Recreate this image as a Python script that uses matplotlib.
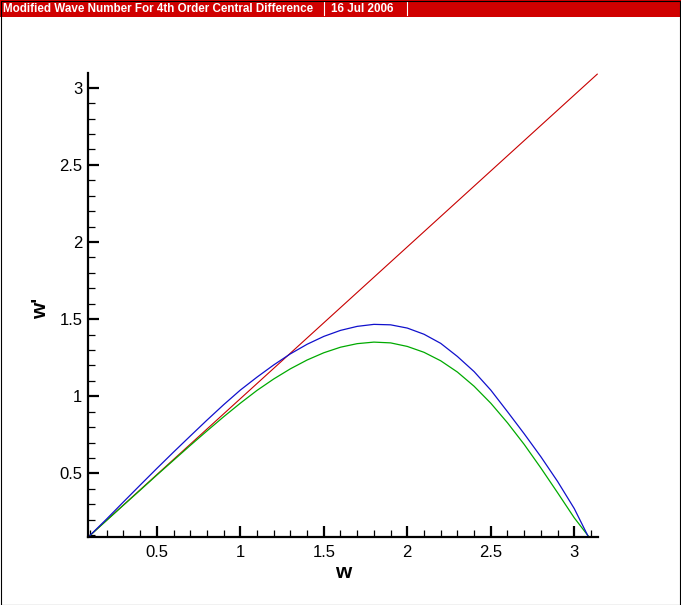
import matplotlib
matplotlib.use("Agg")
import matplotlib.pyplot as plt
from matplotlib.patches import Rectangle
from matplotlib.lines import Line2D
from matplotlib.ticker import MultipleLocator, FuncFormatter

# ---- data ----
title_text = "Modified Wave Number For 4th Order Central Difference"
date_text = "16 Jul 2006"
x_label = "w"
y_label = "w'"

red_w = [0.09, 3.14]
red_y = [0.0886, 3.09]

blue_w = [0.09, 0.2, 0.3, 0.4, 0.5, 0.6, 0.7, 0.8, 0.9, 1.0, 1.1, 1.2, 1.3, 1.4, 1.5,
          1.6, 1.7, 1.8, 1.9, 2.0, 2.1, 2.2, 2.3, 2.4, 2.5, 2.6, 2.7, 2.8, 2.9, 3.0, 3.084]
blue_y = [0.088, 0.205, 0.315, 0.424, 0.532, 0.638, 0.742, 0.845, 0.945, 1.040, 1.124,
          1.203, 1.275, 1.337, 1.388, 1.427, 1.453, 1.466, 1.463, 1.442, 1.402, 1.343,
          1.258, 1.160, 1.040, 0.900, 0.757, 0.608, 0.448, 0.272, 0.09]

green_w = [0.09, 0.2, 0.3, 0.4, 0.5, 0.6, 0.7, 0.8, 0.9, 1.0, 1.1, 1.2, 1.3, 1.4, 1.5,
           1.6, 1.7, 1.8, 1.9, 2.0, 2.1, 2.2, 2.3, 2.4, 2.5, 2.6, 2.7, 2.8, 2.9, 3.0, 3.087]
green_y = [0.088, 0.196, 0.294, 0.391, 0.489, 0.585, 0.681, 0.775, 0.867, 0.955, 1.038,
           1.112, 1.178, 1.235, 1.282, 1.318, 1.341, 1.351, 1.346, 1.323, 1.285, 1.230,
           1.157, 1.065, 0.955, 0.828, 0.688, 0.535, 0.375, 0.212, 0.09]

x_range = (0.088, 3.142)
y_range = (0.088, 3.095)

# ---- figure ----
W, H = 681, 605
plt.rcParams["font.family"] = ["Liberation Sans", "DejaVu Sans"]
fig = plt.figure(figsize=(W / 100, H / 100), dpi=100)
fig.patch.set_facecolor("white")

def px(x, y):
    return x / W, 1 - y / H

# axes box: left 88, right 598, top 73, bottom 537 (pixels)
ax = fig.add_axes([88 / W, 1 - 537 / H, (598 - 88) / W, (537 - 73) / H])
ax.set_facecolor("white")

ax.plot(red_w, red_y, color="#C80000", lw=0.8, solid_capstyle="butt")
ax.plot(green_w, green_y, color="#00AA00", lw=0.9)
ax.plot(blue_w, blue_y, color="#1010CC", lw=0.9)

ax.set_xlim(*x_range)
ax.set_ylim(*y_range)

for s in ("top", "right"):
    ax.spines[s].set_visible(False)
for s in ("left", "bottom"):
    ax.spines[s].set_linewidth(1.6)
    ax.spines[s].set_color("black")

fmt = FuncFormatter(lambda v, p: "%g" % round(v, 3))
ax.xaxis.set_major_locator(MultipleLocator(0.5))
ax.xaxis.set_minor_locator(MultipleLocator(0.1))
ax.yaxis.set_major_locator(MultipleLocator(0.5))
ax.yaxis.set_minor_locator(MultipleLocator(0.1))
ax.xaxis.set_major_formatter(fmt)
ax.yaxis.set_major_formatter(fmt)

ax.tick_params(which="major", direction="in", length=8, width=1.6, labelsize=12,
               colors="black")
ax.tick_params(which="minor", direction="in", length=5, width=0.9)
ax.tick_params(axis="x", which="major", pad=6)
ax.tick_params(axis="y", which="major", pad=4)

# axis titles
fig.text(*px(343, 572), x_label, ha="center", va="center", fontsize=15,
         fontweight="bold")
fig.text(*px(41, 308), y_label, ha="center", va="center", fontsize=15,
         fontweight="bold", rotation=90)

# title bar
bar_h = 17
fig.patches.append(Rectangle(px(0, bar_h), 1, bar_h / H, transform=fig.transFigure,
                             facecolor="#D00000", edgecolor="none", zorder=0))
fig.text(*px(3, 8.5), title_text, ha="left", va="center", color="white",
         fontsize=8.4, fontweight="bold")
fig.text(*px(331, 8.5), date_text, ha="left", va="center", color="white",
         fontsize=8.4, fontweight="bold")
for sx in (324, 407):
    fig.lines.append(Line2D([sx / W, sx / W], [1 - 2 / H, 1 - 15 / H],
                            transform=fig.transFigure, color="white", lw=0.8))

# outer border
fig.patches.append(Rectangle((0.5 / W, 0.5 / H), 1 - 1.5 / W, 1 - 1.5 / H,
                             transform=fig.transFigure, facecolor="none",
                             edgecolor="black", lw=0.8, zorder=5))

fig.savefig("out.png", dpi=100, facecolor="white")
